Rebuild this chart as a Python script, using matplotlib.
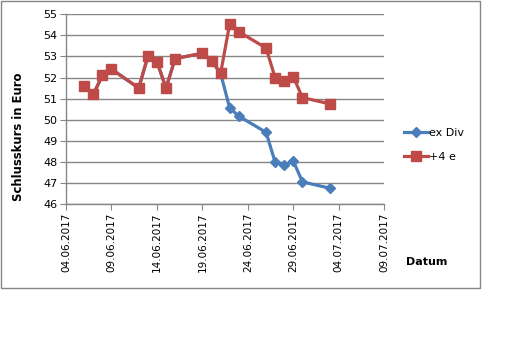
import matplotlib
matplotlib.use("Agg")
import matplotlib.pyplot as plt
from matplotlib.patches import Rectangle
import datetime as dt

dates_red = ["2017-06-06", "2017-06-07", "2017-06-08", "2017-06-09", "2017-06-12",
             "2017-06-13", "2017-06-14", "2017-06-15", "2017-06-16", "2017-06-19",
             "2017-06-20", "2017-06-21", "2017-06-22", "2017-06-23", "2017-06-26",
             "2017-06-27", "2017-06-28", "2017-06-29", "2017-06-30", "2017-07-03"]
plus4 = [51.6, 51.2, 52.1, 52.4, 51.5, 53.0, 52.75, 51.5, 52.9, 53.15,
         52.8, 52.2, 54.55, 54.17, 53.4, 51.98, 51.85, 52.03, 51.05, 50.75]
exdiv = [51.6, 51.2, 52.1, 52.4, 51.5, 53.0, 52.75, 51.5, 52.9, 53.15,
         52.8, 52.2, 50.55, 50.17, 49.4, 47.98, 47.85, 48.03, 47.05, 46.75]
xtick_labels = ["04.06.2017", "09.06.2017", "14.06.2017", "19.06.2017",
                "24.06.2017", "29.06.2017", "04.07.2017", "09.07.2017"]

x = [dt.datetime.strptime(d, "%Y-%m-%d") for d in dates_red]
xticks = [dt.datetime.strptime(t, "%d.%m.%Y") for t in xtick_labels]

fig = plt.figure(figsize=(5.2, 3.44), dpi=100)
ax = fig.add_axes([66/520, 1-204/344, (384.3-66)/520, (204-14.3)/344])

blue = "#4A7EBB"
red = "#BE4B48"
gray = "#868686"

l1, = ax.plot(x, exdiv, color=blue, lw=2.3, marker="D", ms=5.5, mec=blue, mfc=blue, label="ex Div", zorder=3)
l2, = ax.plot(x, plus4, color=red, lw=2.3, marker="s", ms=7, mec=red, mfc=red, label="+4 e", zorder=4)

ax.set_ylim(46, 55)
ax.set_yticks(range(46, 56))
ax.set_xlim(xticks[0], xticks[-1])
ax.set_xticks(xticks)
ax.set_xticklabels(xtick_labels, rotation=90, fontsize=7.5, family="DejaVu Sans")
ax.tick_params(axis="y", labelsize=8, length=4, color=gray, pad=2)
ax.tick_params(axis="x", length=4, color=gray, pad=2)
ax.grid(axis="y", color=gray, lw=1)
ax.set_axisbelow(True)
for s in ["top", "right"]:
    ax.spines[s].set_visible(False)
for s in ["left", "bottom"]:
    ax.spines[s].set_color(gray)
    ax.spines[s].set_linewidth(1)

fig.text(19/520, 1-137/344, "Schlusskurs in Euro", fontsize=8.4, fontweight="bold",
         rotation=90, va="center", ha="center")
fig.text(406/520, 1-262/344, "Datum", fontsize=8, fontweight="bold", va="center", ha="left")

fig.legend(handles=[l1, l2], loc="center left", bbox_to_anchor=(398/520, 1-145/344),
           frameon=False, fontsize=8, handlelength=2.2, handletextpad=0.1,
           labelspacing=1.2, borderpad=0)

fig.patches.append(Rectangle((0.5/520, 1-288/344), 479.5/520, 288/344 - 0.5/344,
                             transform=fig.transFigure, fill=False, ec=gray, lw=1))

fig.savefig("out.png", dpi=100)
